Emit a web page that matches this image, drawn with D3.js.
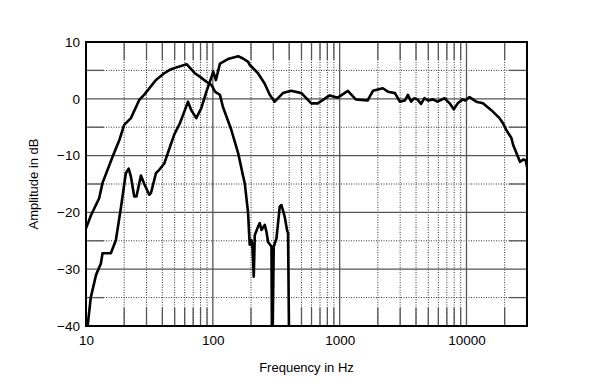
<!DOCTYPE html>
<html>
<head>
<meta charset="utf-8">
<script src="https://cdn.jsdelivr.net/npm/d3@7"></script>
<style>
body{margin:0;background:#fff}
text{font-family:Arial,"Liberation Sans",sans-serif;fill:#000}
</style>
</head>
<body>
<svg id="chart"></svg>
<script>
// values: [frequency Hz, level dB]
const lowCurve = [
  [10,-22.8],[10.95,-20.5],[12.7,-17.5],[13.5,-14.8],[16.2,-10.2],[18.3,-7.3],[20,-4.6],
  [22.6,-3.4],[26.3,-0.2],[28.7,0.7],[35.6,3.3],[41.4,4.5],[45.8,5.1],[49.6,5.4],[62.1,6.1],
  [72.1,4.5],[79,3.9],[89,3.0],[97.8,2.4],[103.9,1.25],[113.8,0.7],[120,-1.4],[140,-5.5],
  [158.5,-9.6],[173.6,-13.7],[178.6,-14.9],[189.7,-20.1],[193.1,-23.6],[195.5,-25.7],
  [201.7,-24.9],[205.4,-26.3],[210.3,-31.3],[214.2,-24],[227.3,-22.5],[234.5,-21.9],
  [241.8,-23.1],[256.7,-22.2],[264.8,-23.4],[272.5,-25.2],[289.9,-26],[292.5,-42],[296,-42],
  [302.2,-26],[317.4,-24.6],[337,-19],[347.5,-18.7],[369,-20.8],[384.6,-23.1],[391.8,-23.7],
  [399,-42]
];
const mainCurve = [
  [10.3,-40],[10.9,-35],[12,-31],[13.1,-29],[13.5,-27.2],[15.7,-27.2],[17.2,-24.9],[18.9,-19],
  [20.6,-13.1],[21.7,-12.3],[22.6,-13.7],[24.0,-17.2],[25.0,-17.2],[27.1,-13.5],[28.7,-14.9],
  [31.5,-16.9],[32.5,-16.6],[35.6,-13.1],[37.8,-12.5],[41.4,-11.4],[45.4,-8.8],[49.6,-6.3],
  [55,-4.3],[60.2,-2],[63.7,-0.5],[67.6,-2],[74,-3.4],[81,-1.7],[89,1.25],[97.8,3.9],
  [100.7,4.8],[105.8,3.3],[113.8,6.2],[131.5,7.0],[158.5,7.5],[173,7.1],[190,6.5],[195,6.0],
  [227,4.5],[256,2.7],[281,0.7],[307,-0.5],[357,1.0],[415,1.4],[500,1.0],[597,-0.8],
  [672,-0.8],[834,0.6],[966,0.2],[1160,1.4],[1340,-0.1],[1660,-0.3],[1830,1.4],[2190,1.85],
  [2400,1.25],[2730,1.0],[2980,-0.5],[3270,-0.3],[3450,0.7],[3660,-0.5],[3880,0.1],
  [4100,-0.1],[4380,-0.9],[4660,0.1],[5000,-0.3],[5430,-0.1],[5900,-0.5],[6710,0.1],
  [7370,-0.8],[7940,-1.85],[8530,-0.8],[9340,-0.1],[9800,-0.3],[10560,0.3],[11940,-0.5],
  [13480,-0.8],[15700,-2],[18200,-3.4],[19400,-4.3],[20600,-5.5],[22600,-6.9],[23300,-8.1],
  [24800,-9.6],[26400,-11.1],[28000,-10.7],[29300,-10.8],[30000,-12]
];

const freqLabels = [10, 100, 1000, 10000];
const freqMinor = [20,30,40,50,60,70,80,90,200,300,400,500,600,700,800,900,
  2000,3000,4000,5000,6000,7000,8000,9000,20000];
const dbLabels = [10, 0, -10, -20, -30, -40];
const dbMajor = [0, -10, -20, -30];
const dbMinor = [5, -5, -15, -25, -35];

const width = 600, height = 392;
const plotL = 86, plotR = 527, plotT = 42, plotB = 326;
const tickLen = 18;

const svg = d3.select('#chart')
  .attr('width', width)
  .attr('height', height);

const x = d3.scaleLog().domain([10, 30000]).range([plotL, plotR]);
const y = d3.scaleLinear().domain([-40, 10]).range([plotB, plotT]);

svg.append('defs').append('clipPath').attr('id','plot')
  .append('rect')
  .attr('x', plotL).attr('y', plotT)
  .attr('width', plotR-plotL).attr('height', plotB-plotT);

const grid = svg.append('g');

// dotted minor lines
grid.append('g').selectAll('line')
  .data(freqMinor).enter()
  .append('line')
  .attr('x1', d=>x(d)).attr('x2', d=>x(d))
  .attr('y1', plotT).attr('y2', plotB)
  .attr('stroke', '#333').attr('stroke-width', 1)
  .attr('stroke-dasharray', '1,1.5');

grid.append('g').selectAll('line')
  .data(dbMinor).enter()
  .append('line')
  .attr('y1', d=>y(d)).attr('y2', d=>y(d))
  .attr('x1', plotL).attr('x2', plotR)
  .attr('stroke', '#333').attr('stroke-width', 1)
  .attr('stroke-dasharray', '1,1.5');

// solid inner ticks on the minor lines
[[plotB, plotB-tickLen],[plotT, plotT+tickLen]].forEach(([a,b])=>{
  grid.append('g').selectAll('line')
    .data(freqMinor).enter()
    .append('line')
    .attr('x1', d=>x(d)).attr('x2', d=>x(d))
    .attr('y1', a).attr('y2', b)
    .attr('stroke', '#555').attr('stroke-width', 1.3);
});
[[plotL, plotL+tickLen],[plotR, plotR-tickLen]].forEach(([a,b])=>{
  grid.append('g').selectAll('line')
    .data(dbMinor).enter()
    .append('line')
    .attr('y1', d=>y(d)).attr('y2', d=>y(d))
    .attr('x1', a).attr('x2', b)
    .attr('stroke', '#555').attr('stroke-width', 1.3);
});

// solid major lines
grid.append('g').selectAll('line')
  .data(freqLabels.slice(1)).enter()
  .append('line')
  .attr('x1', d=>x(d)).attr('x2', d=>x(d))
  .attr('y1', plotT).attr('y2', plotB)
  .attr('stroke', '#555').attr('stroke-width', 1.3);

grid.append('g').selectAll('line')
  .data(dbMajor).enter()
  .append('line')
  .attr('y1', d=>y(d)).attr('y2', d=>y(d))
  .attr('x1', plotL).attr('x2', plotR)
  .attr('stroke', '#555').attr('stroke-width', 1.3);

// curves
const line = d3.line().x(d=>x(d[0])).y(d=>y(d[1]));
const curves = svg.append('g').attr('clip-path', 'url(#plot)');
[lowCurve, mainCurve].forEach(c=>{
  curves.append('path')
    .datum(c)
    .attr('d', line)
    .attr('fill', 'none')
    .attr('stroke', '#000')
    .attr('stroke-width', 2.6)
    .attr('stroke-linejoin', 'round');
});

// frame
svg.append('rect')
  .attr('x', plotL).attr('y', plotT)
  .attr('width', plotR-plotL).attr('height', plotB-plotT)
  .attr('fill', 'none').attr('stroke', '#000').attr('stroke-width', 2);

// tick labels
const xAxis = svg.append('g')
  .attr('transform', `translate(0,${plotB})`)
  .call(d3.axisBottom(x).tickValues(freqLabels).tickSize(0).tickPadding(9)
    .tickFormat(d3.format('d')));
const yAxis = svg.append('g')
  .attr('transform', `translate(${plotL},0)`)
  .call(d3.axisLeft(y).tickValues(dbLabels).tickSize(0).tickPadding(6));
[xAxis, yAxis].forEach(a=>{
  a.select('.domain').remove();
  a.attr('font-family', null).attr('font-size', null);
  a.selectAll('text').style('font-size', '13.5px').attr('fill', '#000');
});

svg.append('text')
  .attr('x', (plotL+plotR)/2).attr('y', 372)
  .attr('text-anchor', 'middle')
  .style('font-size', '13px')
  .text('Frequency in Hz');

svg.append('text')
  .attr('transform', `translate(38,${(plotT+plotB)/2}) rotate(-90)`)
  .attr('text-anchor', 'middle')
  .style('font-size', '13px')
  .text('Amplitude in dB');
</script>
</body>
</html>
